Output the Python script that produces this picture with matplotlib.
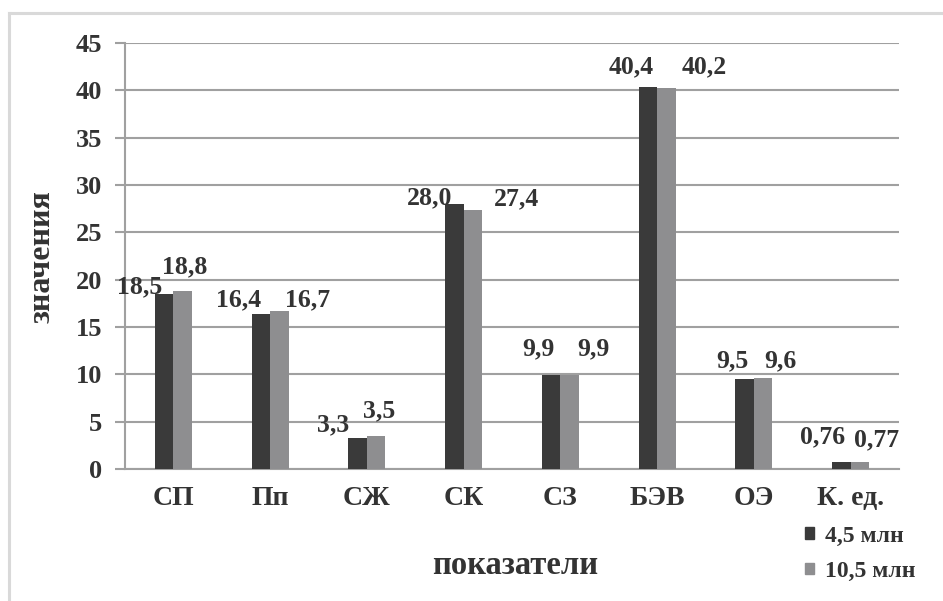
import numpy as np
import matplotlib
matplotlib.use("Agg")
import matplotlib.pyplot as plt
from matplotlib.lines import Line2D
from matplotlib.patches import Patch

plt.rcParams['font.family'] = ['Liberation Serif', 'DejaVu Serif']
plt.rcParams['font.weight'] = 'bold'

# --- данные ---
categories = ['СП', 'Пп', 'СЖ', 'СК', 'СЗ', 'БЭВ', 'ОЭ', 'К. ед.']
vals_45 = [18.5, 16.4, 3.3, 28.0, 9.9, 40.4, 9.5, 0.76]
vals_105 = [18.8, 16.7, 3.5, 27.4, 9.9, 40.2, 9.6, 0.77]
labels_45 = ['18,5', '16,4', '3,3', '28,0', '9,9', '40,4', '9,5', '0,76']
labels_105 = ['18,8', '16,7', '3,5', '27,4', '9,9', '40,2', '9,6', '0,77']
series_names = ['4,5 млн', '10,5 млн']

# смещения подписей от верха столбца (px: dx, dy вверх)
offs_45 = [(-25, 7), (-22, 14), (-25, 13), (-25, 6), (-13, 26), (-17, 20), (-12, 18), (-19, 25)]
offs_105 = [(2, 24), (28, 11), (3, 25), (44, 11), (24, 26), (38, 22), (17, 17), (17, 22)]

TXT = '#333333'
DARK = '#3a3a3a'
LIGHT = '#8e8e90'
GRID = '#a0a0a0'

W, H = 943, 601
fig = plt.figure(figsize=(W / 100, H / 100), dpi=100)
ax = fig.add_axes([125 / W, 1 - 469 / H, 774 / W, 426 / H])

x = np.arange(len(categories))
bw = 0.19
b1 = ax.bar(x - bw / 2, vals_45, bw, color=DARK, zorder=3)
b2 = ax.bar(x + bw / 2, vals_105, bw, color=LIGHT, zorder=3)

px = 0.72  # пиксели -> пункты при dpi 100
for bars, labs, offs in ((b1, labels_45, offs_45), (b2, labels_105, offs_105)):
    for rect, lab, (dx, dy) in zip(bars, labs, offs):
        ax.annotate(lab, (rect.get_x() + rect.get_width() / 2, rect.get_height()),
                    xytext=(dx * px, dy * px), textcoords='offset points',
                    ha='center', va='center', fontsize=18.5, color=TXT,
                    fontweight='bold')

ax.set_xlim(-0.5, len(categories) - 0.5)
ax.set_ylim(0, 45)
ax.set_yticks(np.arange(0, 46, 5))
ax.set_xticks(x)
ax.set_xticklabels(categories)
ax.yaxis.grid(True, color=GRID, linewidth=1.5, zorder=0)
ax.set_axisbelow(True)
for s in ('top', 'right'):
    ax.spines[s].set_visible(False)
ax.spines['left'].set_color(GRID)
ax.spines['left'].set_linewidth(1.5)
ax.spines['bottom'].set_color(GRID)
ax.spines['bottom'].set_linewidth(1.5)
ax.tick_params(axis='y', length=7.2, width=1.5, color=GRID, pad=9,
               labelsize=19, labelcolor=TXT)
ax.tick_params(axis='x', length=0, pad=12, labelsize=20, labelcolor=TXT)

fig.text(42 / W, 1 - 257 / H, 'значения', rotation=90, ha='center', va='center',
         fontsize=23, color=TXT, fontweight='bold')
fig.text(515 / W, 1 - 566 / H, 'показатели', ha='center', va='center',
         fontsize=23.5, color=TXT, fontweight='bold')

handles = [Patch(color=DARK), Patch(color=LIGHT)]
fig.legend(handles, series_names, loc='upper left',
           bbox_to_anchor=(793 / W, 1 - 514 / H), frameon=False,
           handlelength=0.4, handleheight=0.4,
           handletextpad=0.45, labelspacing=0.6, borderpad=0,
           labelcolor=TXT, prop={'weight': 'bold', 'size': 17})

# рамка диаграммы
fig.add_artist(Line2D([9 / W, 1.0], [1 - 13 / H, 1 - 13 / H], color='#d9d9d9',
                      linewidth=2.2, transform=fig.transFigure))
fig.add_artist(Line2D([9 / W, 9 / W], [1 - 13 / H, 0.0], color='#d9d9d9',
                      linewidth=2.2, transform=fig.transFigure))

fig.savefig('out.png', dpi=100)
